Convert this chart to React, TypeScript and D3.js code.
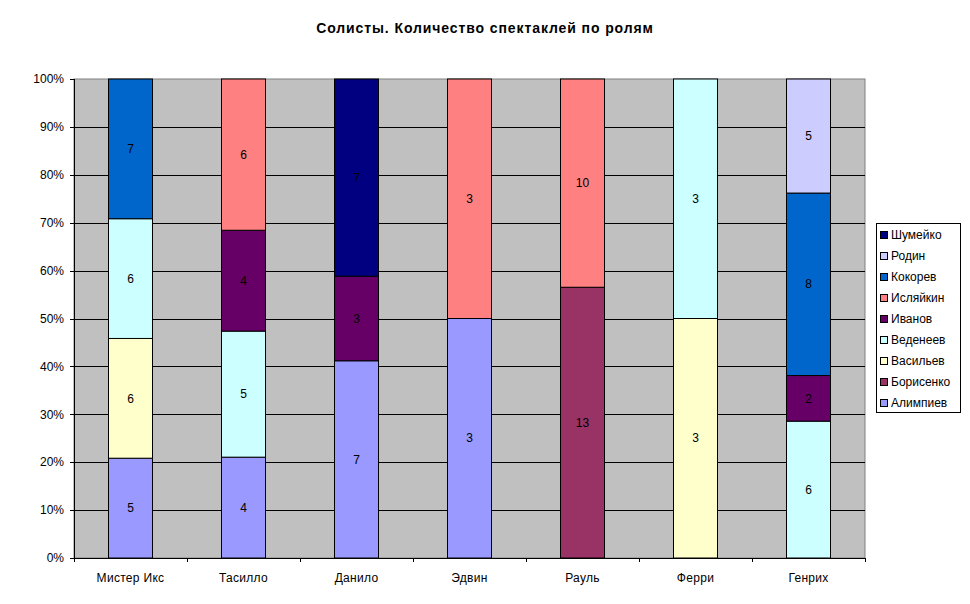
import React from "react";
import * as d3 from "d3";

const categories = ["Мистер Икс", "Тасилло", "Данило", "Эдвин", "Рауль", "Ферри", "Генрих"];
const seriesNames = ["Алимпиев", "Борисенко", "Васильев", "Веденеев", "Иванов", "Исляйкин", "Кокорев", "Родин", "Шумейко"];
const seriesColors = ["#9999FF", "#993366", "#FFFFCC", "#CCFFFF", "#660066", "#FF8080", "#0066CC", "#CCCCFF", "#000080"];
const alimpiev = [5, 4, 7, 3, 0, 0, 0];
const borisenko = [null, null, null, null, 13, 0, 0];
const vasiliev = [6, null, null, null, null, 3, 0];
const vedeneev = [6, 5, null, null, null, 3, 6];
const ivanov = [0, 4, 3, null, null, null, 2];
const islyaikin = [null, 6, 0, 3, 10, null, null];
const kokorev = [7, null, null, null, null, null, 8];
const rodin = [null, null, null, null, null, null, 5];
const shumeiko = [null, null, 7, null, null, null, null];
const seriesValues: (number | null)[][] = [alimpiev, borisenko, vasiliev, vedeneev, ivanov, islyaikin, kokorev, rodin, shumeiko];
const yTicks = [0, 0.1, 0.2, 0.3, 0.4, 0.5, 0.6, 0.7, 0.8, 0.9, 1];
const title = "Солисты. Количество спектаклей по ролям";

const W = 970, H = 604;
const L = 74, R = 865, T = 79, B = 558;
const FONT = "Arial, 'Liberation Sans', sans-serif";

export default function App() {
  const x = d3.scaleBand().domain(categories).range([L, R]).paddingInner(0.61).paddingOuter(0.305);
  const y = d3.scaleLinear().domain([0, 1]).range([B, T]);
  const fmt = d3.format(".0%");

  const segments: any[] = [];
  categories.forEach((c, ci) => {
    const total = seriesValues.reduce((s, arr) => s + (arr[ci] ?? 0), 0);
    let acc = 0;
    seriesValues.forEach((arr, si) => {
      const v = arr[ci];
      if (v === null || v === undefined) return;
      const y0 = acc / total;
      acc += v;
      const y1 = acc / total;
      segments.push({ c, si, v, y0, y1 });
    });
  });

  const bw = x.bandwidth();
  const step = x.step();

  return (
    <svg width={W} height={H} style={{ position: "absolute", left: 0, top: 0, background: "#fff" }} fontFamily={FONT}>
      <rect x={0} y={0} width={W} height={H} fill="#fff" />
      <text x={485} y={33} textAnchor="middle" fontSize={14} fontWeight="bold" letterSpacing={0.9} fill="#000">{title}</text>
      <rect x={L} y={T} width={R - L} height={B - T} fill="#C0C0C0" stroke="#808080" strokeWidth={1} />
      {yTicks.map((t) => (
        <g key={t}>
          {t > 0 && t < 1 && <line x1={L} x2={R} y1={Math.round(y(t)) + 0.5} y2={Math.round(y(t)) + 0.5} stroke="#000" />}
          <line x1={L - 4} x2={L} y1={Math.round(y(t)) + 0.5} y2={Math.round(y(t)) + 0.5} stroke="#000" />
          <text x={64} y={y(t)} dy="0.35em" textAnchor="end" fontSize={12} fill="#000">{fmt(t)}</text>
        </g>
      ))}
      {segments.map((s, i) => {
        const x0 = Math.round(x(s.c)!) + 0.5;
        const top = y(s.y1);
        const bot = y(s.y0);
        return (
          <rect key={i} x={x0} y={top} width={Math.round(bw)} height={bot - top} fill={seriesColors[s.si]} stroke="#000" strokeWidth={1} />
        );
      })}
      {segments.filter((s) => s.v > 0).map((s, i) => (
        <text key={"l" + i} x={x(s.c)! + bw / 2} y={(y(s.y0) + y(s.y1)) / 2} dy="0.35em" textAnchor="middle" fontSize={12} fill="#000">{s.v}</text>
      ))}
      <line x1={L + 0.5} x2={L + 0.5} y1={T} y2={B} stroke="#000" />
      <line x1={L} x2={R} y1={B + 0.5} y2={B + 0.5} stroke="#000" />
      {d3.range(categories.length + 1).map((i) => (
        <line key={"xt" + i} x1={Math.round(L + i * step) + 0.5} x2={Math.round(L + i * step) + 0.5} y1={B} y2={B + 4} stroke="#000" />
      ))}
      {categories.map((c) => (
        <text key={c} x={x(c)! + bw / 2} y={578} dy="0.35em" textAnchor="middle" fontSize={12} letterSpacing={0.3} fill="#000">{c}</text>
      ))}
      <rect x={876.5} y={223.5} width={84} height={189} fill="#fff" stroke="#000" />
      {seriesNames.slice().reverse().map((n, i) => {
        const si = seriesNames.length - 1 - i;
        const cy = 235 + i * 21;
        return (
          <g key={n}>
            <rect x={880.5} y={cy - 3.5} width={7} height={7} fill={seriesColors[si]} stroke="#000" />
            <text x={891} y={cy} dy="0.35em" fontSize={12} fill="#000">{n}</text>
          </g>
        );
      })}
    </svg>
  );
}
